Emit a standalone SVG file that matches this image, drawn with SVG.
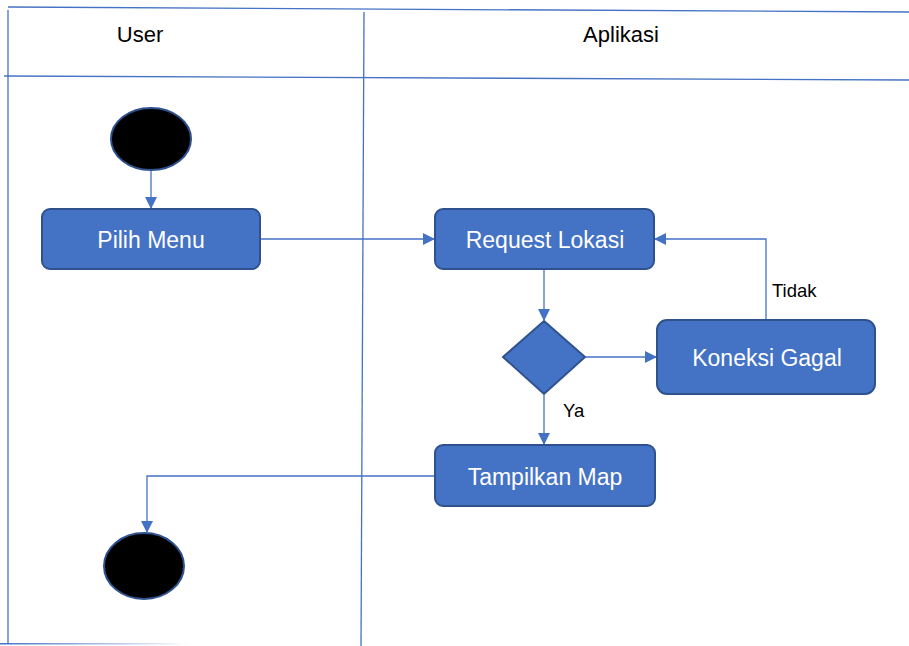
<svg xmlns="http://www.w3.org/2000/svg" width="909" height="646" viewBox="0 0 909 646">
<defs>
<style>
.lane{stroke:#4472C4;stroke-width:1.3;fill:none}
.node{fill:#4472C4;stroke:#2F528F;stroke-width:2}
.term{fill:#000;stroke:#2F528F;stroke-width:2}
.lbl{font-family:"Liberation Sans",Arial,sans-serif;font-size:23px;fill:#fff;text-anchor:middle}
.hdr{font-family:"Liberation Sans",Arial,sans-serif;font-size:22px;fill:#000;text-anchor:middle}
.guard{font-family:"Liberation Sans",Arial,sans-serif;font-size:18.5px;fill:#000}
.edge{stroke:#4472C4;stroke-width:1.3;fill:none;marker-end:url(#arr)}
</style>
<marker id="arr" viewBox="0 0 12 12" refX="11" refY="6" markerWidth="12" markerHeight="12" markerUnits="userSpaceOnUse" orient="auto">
<path d="M0,0 L12,6 L0,12 Z" fill="#4472C4"/>
</marker>
<linearGradient id="fade" x1="0" x2="1" y1="0" y2="0"><stop offset="0" stop-color="#4472C4"/><stop offset="1" stop-color="#4472C4" stop-opacity="0"/></linearGradient>
</defs>
<rect width="909" height="646" fill="#fff"/>
<g id="swimlanes">
<line class="lane" x1="8" y1="7" x2="909" y2="12"/>
<line class="lane" x1="4" y1="76" x2="909" y2="80"/>
<line class="lane" x1="8" y1="10" x2="8" y2="644"/>
<line class="lane" x1="364" y1="12" x2="361" y2="646"/>
<rect x="0" y="643" width="190" height="1.5" fill="url(#fade)"/>
<text class="hdr" x="140" y="42">User</text>
<text class="hdr" x="621" y="42">Aplikasi</text>
</g>
<g id="connectors">
<line class="edge" x1="151" y1="171" x2="151" y2="208"/>
<line class="edge" x1="261" y1="239" x2="434" y2="239"/>
<line class="edge" x1="544" y1="270" x2="544" y2="320"/>
<line class="edge" x1="586" y1="357" x2="656" y2="357"/>
<polyline class="edge" points="766,320 766,239 655,239"/>
<line class="edge" x1="544" y1="395" x2="544" y2="444"/>
<polyline class="edge" points="435,476 147,476 147,532"/>
<text class="guard" x="772" y="297">Tidak</text>
<text class="guard" x="563" y="417">Ya</text>
</g>
<g id="start"><ellipse class="term" cx="151" cy="139" rx="40" ry="31"/></g>
<g id="pilih-menu"><rect class="node" x="42" y="209" width="218" height="60" rx="8"/><text class="lbl" x="151" y="248">Pilih Menu</text></g>
<g id="request-lokasi"><rect class="node" x="435" y="209" width="219" height="60" rx="8"/><text class="lbl" x="545" y="248">Request Lokasi</text></g>
<g id="decision"><polygon class="node" points="544,321 585,357 544,394 503,357"/></g>
<g id="koneksi-gagal"><rect class="node" x="657" y="320" width="218" height="74" rx="10"/><text class="lbl" x="767" y="366">Koneksi Gagal</text></g>
<g id="tampilkan-map"><rect class="node" x="435" y="445" width="220" height="61" rx="8"/><text class="lbl" x="545" y="485">Tampilkan Map</text></g>
<g id="end"><ellipse class="term" cx="144" cy="566" rx="40" ry="33"/></g>
</svg>
